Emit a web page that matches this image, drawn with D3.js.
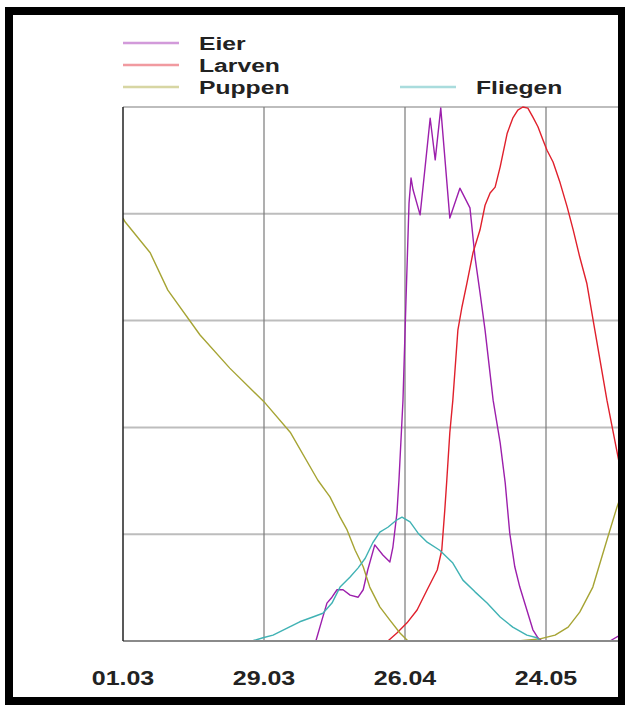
<!DOCTYPE html>
<html>
<head>
<meta charset="utf-8">
<script src="https://cdn.jsdelivr.net/npm/d3@7"></script>
<style>
  body { margin: 0; background: #fff; }
  text { font-family: "Liberation Sans", Arial, sans-serif; fill: #222; }
</style>
</head>
<body>
<script>
// days counted from 01.03, values in % of the maximum
var tickLabels = ['01.03', '29.03', '26.04', '24.05']
var tickDays = [0, 28, 56, 84]

var eierDays = [38.3, 39.5, 40.5, 41.5, 42.5, 43.7, 45.1, 46.7, 47.7, 48.6, 50.0, 51.6, 53.0, 53.6, 54.4, 54.8, 55.6, 56.2, 56.8, 57.2, 57.6, 59.0, 60.0, 61.0, 62.0, 63.1, 64.9, 66.9, 68.9, 69.9, 70.9, 71.9, 73.5, 74.9, 75.9, 76.8, 77.8, 78.8, 80.2, 81.4, 82.4, 83.2, 96.7, 98.7, 100.5]
var eierVals = [0, 3.9, 7.1, 8.2, 9.6, 9.6, 8.6, 8.2, 9.6, 13.3, 18.0, 16.1, 14.8, 17.6, 24.0, 30.1, 45.1, 63.9, 82.0, 86.7, 84.5, 79.8, 88.8, 97.9, 90.1, 99.8, 79.2, 84.8, 81.1, 71.9, 65.2, 58.2, 45.1, 37.1, 29.6, 20.2, 13.9, 10.1, 5.8, 2.1, 0.6, 0, 0, 1.1, 2.4]

var larvenDays = [52.6, 54.4, 56.4, 58.4, 60.4, 62.4, 63.3, 63.9, 64.3, 64.9, 65.5, 66.5, 67.3, 68.3, 69.5, 70.9, 71.9, 72.9, 73.9, 74.9, 76.3, 77.4, 78.4, 79.4, 80.4, 81.4, 82.4, 83.4, 84.2, 85.4, 86.8, 88.2, 89.4, 90.7, 92.1, 93.7, 96.1, 98.3, 100.5]
var larvenVals = [0, 1.5, 3.4, 5.8, 9.6, 13.3, 17.0, 24.5, 30.1, 39.0, 45.1, 58.2, 62.5, 67.0, 72.7, 77.0, 81.6, 83.9, 85.0, 88.8, 95.1, 97.9, 99.4, 100, 99.8, 98.1, 96.3, 93.8, 91.9, 89.7, 85.8, 81.3, 77.0, 71.9, 67.0, 58.2, 45.1, 34.5, 24.0]

var puppenDays = [0, 0.4, 5.4, 8.9, 15.3, 21.2, 28.2, 33.2, 38.7, 41.1, 43.1, 44.5, 46.1, 47.7, 49.0, 51.0, 53.0, 55.0, 56.6, 78.4, 82.8, 85.8, 88.4, 90.7, 93.3, 96.1, 98.1, 100.5]
var puppenVals = [79.2, 78.5, 72.7, 65.7, 57.3, 51.1, 44.6, 39.1, 30.1, 27.0, 23.2, 20.8, 17.0, 13.9, 10.1, 6.4, 3.9, 1.5, 0, 0, 0.4, 1.1, 2.6, 5.4, 10.1, 18.9, 25.1, 31.5]

var fliegenDays = [25.6, 27.8, 29.8, 32.6, 35.1, 37.7, 39.7, 41.5, 43.1, 45.1, 46.7, 48.1, 49.6, 51.0, 52.6, 54.4, 55.4, 57.0, 58.6, 60.4, 62.9, 65.5, 67.5, 69.9, 72.3, 74.9, 77.4, 80.2, 82.2, 82.8]
var fliegenVals = [0, 0.6, 1.1, 2.4, 3.6, 4.5, 5.2, 7.1, 10.1, 12.0, 13.7, 15.5, 18.4, 20.4, 21.3, 22.7, 23.2, 22.3, 20.2, 18.5, 17.0, 14.6, 11.4, 9.2, 7.1, 4.5, 2.6, 1.1, 0.6, 0]

var series = [
    {name: 'Eier', days: eierDays, vals: eierVals, color: '#9c1fac'},
    {name: 'Larven', days: larvenDays, vals: larvenVals, color: '#e0202c'},
    {name: 'Puppen', days: puppenDays, vals: puppenVals, color: '#a6a434'},
    {name: 'Fliegen', days: fliegenDays, vals: fliegenVals, color: '#40b2b4'}
]

var width = 625, height = 707
var plotLeft = 123, plotTop = 107, plotRight = 687, plotBottom = 641

var svg = d3.select('body').append('svg')
    .attr('width', width)
    .attr('height', height)

var x = d3.scaleLinear().domain([0, 112]).range([plotLeft, plotRight])
var y = d3.scaleLinear().domain([0, 100]).range([plotBottom, plotTop])

svg.append('clipPath').attr('id', 'plot')
    .append('rect')
    .attr('x', plotLeft).attr('y', plotTop - 2)
    .attr('width', plotRight - plotLeft).attr('height', plotBottom - plotTop + 4)

// horizontal grid
svg.selectAll('line.hgrid')
    .data([20, 40, 60, 80, 100])
    .enter()
    .append('line')
    .attr('class', 'hgrid')
    .attr('x1', plotLeft).attr('x2', plotRight)
    .attr('y1', function (d) { return y(d) })
    .attr('y2', function (d) { return y(d) })
    .attr('stroke', '#bdbdbd')
    .attr('stroke-width', 2)

// vertical grid
svg.selectAll('line.vgrid')
    .data(tickDays.slice(1).concat([112]))
    .enter()
    .append('line')
    .attr('class', 'vgrid')
    .attr('x1', function (d) { return x(d) })
    .attr('x2', function (d) { return x(d) })
    .attr('y1', plotTop).attr('y2', plotBottom)
    .attr('stroke', '#7a7a7a')
    .attr('stroke-width', 1.2)

var line = d3.line()
    .x(function (d) { return x(d[0]) })
    .y(function (d) { return y(d[1]) })

svg.append('g')
    .attr('clip-path', 'url(#plot)')
    .selectAll('path')
    .data(series)
    .enter()
    .append('path')
    .attr('d', function (s) {
        return line(d3.zip(s.days, s.vals))
    })
    .attr('fill', 'none')
    .attr('stroke', function (s) { return s.color })
    .attr('stroke-width', 1.4)
    .attr('stroke-linejoin', 'round')

// axis lines drawn over the zero stretches
svg.append('line')
    .attr('x1', plotLeft).attr('x2', plotRight)
    .attr('y1', plotBottom).attr('y2', plotBottom)
    .attr('stroke', '#8a8a8a').attr('stroke-width', 2)

svg.append('line')
    .attr('x1', plotLeft).attr('x2', plotLeft)
    .attr('y1', plotTop).attr('y2', plotBottom)
    .attr('stroke', '#222').attr('stroke-width', 1.5)

// x tick labels
svg.selectAll('text.tick')
    .data(tickDays)
    .enter()
    .append('text')
    .attr('class', 'tick')
    .attr('transform', function (d) {
        return 'translate(' + x(d) + ',685) scale(1.25,1)'
    })
    .attr('text-anchor', 'middle')
    .style('font-size', '20px')
    .style('font-weight', 'bold')
    .text(function (d, i) { return tickLabels[i] })

// legend
var legendPos = [[123, 43], [123, 65], [123, 87], [400, 87]]
var legend = svg.selectAll('g.legend')
    .data(series)
    .enter()
    .append('g')
    .attr('class', 'legend')
    .attr('transform', function (d, i) {
        return 'translate(' + legendPos[i][0] + ',' + legendPos[i][1] + ')'
    })

legend.append('line')
    .attr('x1', 0).attr('x2', 56)
    .attr('stroke', function (d) { return d.color })
    .attr('stroke-opacity', 0.45)
    .attr('stroke-width', 2.5)

legend.append('text')
    .attr('transform', 'translate(76,7) scale(1.3,1)')
    .style('font-size', '19px')
    .style('font-weight', 'bold')
    .text(function (d) { return d.name })

// thick frame around the picture
svg.append('rect')
    .attr('x', 9).attr('y', 11)
    .attr('width', 613).attr('height', 690)
    .attr('fill', 'none')
    .attr('stroke', '#000')
    .attr('stroke-width', 8)
</script>
</body>
</html>
